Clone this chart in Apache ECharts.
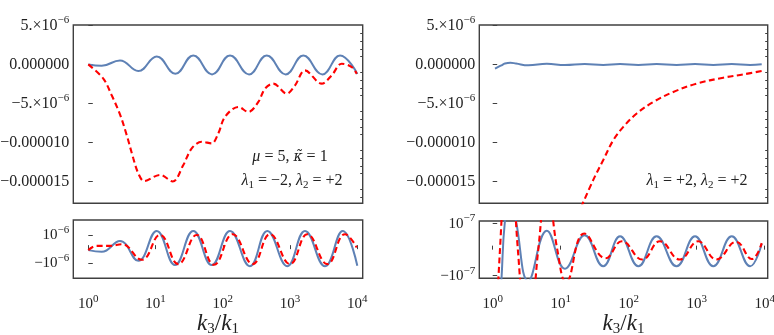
<!DOCTYPE html>
<html><head><meta charset="utf-8">
<script src="https://cdn.jsdelivr.net/npm/echarts@6/dist/echarts.min.js"></script>
<style>html,body{margin:0;padding:0;background:#fff}#c{width:774px;height:335px}</style>
</head><body><div id="c"></div>
<script>
// ---------- DATA (x = log10(k3/k1), y = value) ----------
// top-left panel
const tlBlueX = [0, 0.199, 0.471, 0.743, 1.017, 1.294, 1.561, 1.840, 2.107, 2.390, 2.653, 2.935, 3.197, 3.480, 3.743, 4.0];
const tlBlueY = [0, -0.17e-6, 0.51e-6, -0.85e-6, 1.02e-6, -1.19e-6, 1.15e-6, -1.28e-6, 1.15e-6, -1.28e-6, 1.15e-6, -1.28e-6, 1.15e-6, -1.28e-6, 1.15e-6, -1.22e-6];
const tlRedX = [0, 0.223, 0.348, 0.471, 0.571, 0.669, 0.743, 0.830, 1.066, 1.255, 1.413, 1.538, 1.686, 1.835, 1.933, 2.033, 2.230, 2.379, 2.528, 2.628, 2.751, 2.950, 3.074, 3.222, 3.471, 3.619, 3.768, 3.917, 3.991];
const tlRedY = [0, -1.82e-6, -3.96e-6, -6.4e-6, -9.06e-6, -12.03e-6, -13.95e-6, -14.95e-6, -14.16e-6, -15.0e-6, -12.89e-6, -10.76e-6, -9.91e-6, -10.12e-6, -8.84e-6, -6.72e-6, -5.45e-6, -6.09e-6, -4.81e-6, -3.10e-6, -2.46e-6, -3.74e-6, -2.68e-6, -0.77e-6, -2.46e-6, -1.40e-6, 0.09e-6, -0.34e-6, -1.19e-6];
// right column blue (same curve shown in top-right and bottom-right)
const rBlueX = [0.034, 0.13, 0.18, 0.26, 0.343, 0.524, 0.796, 1.063, 1.353, 1.625, 1.873, 2.142, 2.410, 2.704, 2.975, 3.244, 3.515, 3.785, 3.956];
const rBlueY = [-5.5e-7, -1.1e-7, 1.1e-7, 2.2e-7, 1.1e-7, -1.2e-7, 0.73e-7, -0.73e-7, 0.55e-7, -0.64e-7, 0.51e-7, -0.64e-7, 0.51e-7, -0.64e-7, 0.51e-7, -0.64e-7, 0.51e-7, -0.64e-7, 0.23e-7];
// top-right red
const trRedX = [1.30, 1.479, 1.626, 1.774, 1.921, 2.118, 2.362, 2.656, 3.0, 3.391, 3.685, 3.956];
const trRedY = [-18.3e-6, -14.8e-6, -12.25e-6, -9.70e-6, -8.0e-6, -6.29e-6, -4.81e-6, -3.53e-6, -2.46e-6, -1.70e-6, -1.28e-6, -0.85e-6];
// bottom-left
const blBlueX = [0, 0.199, 0.471, 0.743, 1.017, 1.289, 1.561, 1.835, 2.107, 2.404, 2.662, 2.959, 3.222, 3.520, 3.783, 4.0];
const blBlueY = [-0.07e-6, -0.19e-6, 0.58e-6, -0.82e-6, 1.28e-6, -1.12e-6, 1.28e-6, -1.12e-6, 1.28e-6, -1.2e-6, 1.28e-6, -1.2e-6, 1.28e-6, -1.2e-6, 1.28e-6, -1.17e-6];
const blRedX = [0, 0.125, 0.323, 0.497, 0.794, 1.066, 1.338, 1.612, 1.869, 2.147, 2.445, 2.702, 2.999, 3.257, 3.554, 3.817, 3.991];
const blRedY = [-0.07e-6, 0.23e-6, 0.23e-6, 0.35e-6, -0.75e-6, 1.0e-6, -1.05e-6, 1.0e-6, -1.1e-6, 1.05e-6, -1.05e-6, 1.05e-6, -1.05e-6, 1.05e-6, -1.05e-6, 1.05e-6, 0.12e-6];
// bottom-right red
const brRedX = [0.0, 0.107, 0.24, 0.37, 0.52, 0.67, 0.80, 0.95, 1.08, 1.347, 1.66, 1.90, 2.20, 2.46, 2.75, 3.02, 3.29, 3.58, 3.81, 3.956];
const brRedY = [-6e-7, 0, 5e-7, 0, -4e-7, 0, 2.5e-7, 0, -1.25e-7, 0.62e-7, -0.33e-7, 0.32e-7, -0.38e-7, 0.32e-7, -0.38e-7, 0.32e-7, -0.38e-7, 0.30e-7, -0.36e-7, 0.25e-7];

// ---------- TICKS ----------
const xTicks = [0, 1, 2, 3, 4];
const xTickExp = ['0', '1', '2', '3', '4'];
const topYTicks = [-15e-6, -10e-6, -5e-6, 0, 5e-6];
const topYLabels = [['\u22120.000015', ''], ['\u22120.000010', ''], ['\u22125.\u00d710', '\u22126'], ['0.000000', ''], ['5.\u00d710', '\u22126']];
const topYMinor = [-17e-6, -16e-6, -14e-6, -13e-6, -12e-6, -11e-6, -9e-6, -8e-6, -7e-6, -6e-6, -4e-6, -3e-6, -2e-6, -1e-6, 1e-6, 2e-6, 3e-6, 4e-6];
const blYTicks = [-1e-6, 1e-6];
const blYLabels = [['\u221210', '\u22126'], ['10', '\u22126']];
const brYTicks = [-1e-7, 1e-7];
const brYLabels = [['\u221210', '\u22127'], ['10', '\u22127']];

// ---------- STYLE ----------
const FONT = 'Liberation Serif';
const TXT = '#222222';
const FRAME = '#404040';
const BLUE = '#5e81b5';
const RED = '#ff0000';

function supRich(size) {
  return {
    b: {fontFamily: FONT, fontSize: size, color: TXT, lineHeight: size + 6},
    s: {fontFamily: FONT, fontSize: Math.round(size * 0.7), color: TXT, verticalAlign: 'top', lineHeight: Math.round(size * 0.7)}
  };
}
function fmtFrom(ticks, labels) {
  return function (v) {
    for (let i = 0; i < ticks.length; i++) {
      if (Math.abs(v - ticks[i]) < Math.abs(ticks[i]) * 1e-6 + 1e-15) {
        const l = labels[i];
        return '{b|' + l[0] + '}' + (l[1] ? '{s|' + l[1] + '}' : '');
      }
    }
    return '';
  };
}
function pts(xs, ys) { return xs.map((x, i) => [x, ys[i]]); }

const grids = [
  {left: 73.3, top: 25, width: 289.4, height: 178.3},
  {left: 479.3, top: 25, width: 288.4, height: 178.3},
  {left: 73.3, top: 220, width: 289.4, height: 58.3},
  {left: 479.3, top: 221, width: 288.4, height: 57.3}
].map(g => Object.assign({show: true, borderColor: FRAME, borderWidth: 1.4, backgroundColor: 'transparent', containLabel: false, outerBoundsMode: 'none'}, g));

const xRange = [[-0.223, 4.08], [-0.197, 4.044], [-0.223, 4.08], [-0.197, 4.044]];
const nameRich = {
  i: {fontFamily: FONT, fontStyle: 'italic', fontSize: 23, color: TXT, lineHeight: 26},
  n: {fontFamily: FONT, fontSize: 23, color: TXT, lineHeight: 26},
  sub: {fontFamily: FONT, fontSize: 15, color: TXT, verticalAlign: 'bottom', lineHeight: 14}
};
const xAxes = [0, 1, 2, 3].map(i => {
  const bottom = i >= 2;
  return {
    type: 'value', gridIndex: i, min: xRange[i][0], max: xRange[i][1],
    axisLine: {show: false}, splitLine: {show: false},
    axisTick: bottom ? {show: true, inside: true, length: 4, lineStyle: {color: FRAME, width: 1}, customValues: xTicks} : {show: false},
    axisLabel: bottom ? {show: true, customValues: xTicks, margin: 15, fontFamily: FONT,
      formatter: v => '{b|10}{s|' + xTickExp[xTicks.indexOf(Math.round(v))] + '}', rich: supRich(15)} : {show: false},
    name: bottom ? '{i|k}{sub|3}{n|/}{i|k}{sub|1}' : '',
    nameLocation: 'middle', nameGap: 30,
    nameTextStyle: {fontFamily: FONT, rich: nameRich}
  };
});

const yConf = [
  {min: -17.8e-6, max: 5.05e-6, ticks: topYTicks, labels: topYLabels, size: 16},
  {min: -17.8e-6, max: 5.05e-6, ticks: topYTicks, labels: topYLabels, size: 16},
  {min: -2.05e-6, max: 2.05e-6, ticks: blYTicks, labels: blYLabels, size: 15},
  {min: -1.1e-7, max: 1.1e-7, ticks: brYTicks, labels: brYLabels, size: 15}
];
const yAxes = yConf.map((c, i) => ({
  type: 'value', gridIndex: i, min: c.min, max: c.max,
  axisLine: {show: false}, splitLine: {show: false},
  axisTick: {show: true, inside: true, length: 4.5, lineStyle: {color: FRAME, width: 1}, customValues: c.ticks},
  axisLabel: {show: true, customValues: c.ticks, margin: 4, fontFamily: FONT, formatter: fmtFrom(c.ticks, c.labels), rich: supRich(c.size)}
}));
[0, 1].forEach(i => yAxes.push({
  type: 'value', gridIndex: i, min: yConf[i].min, max: yConf[i].max,
  axisLine: {show: false}, splitLine: {show: false}, axisLabel: {show: false},
  axisTick: {show: true, inside: true, length: 2.5, lineStyle: {color: FRAME, width: 1}, customValues: topYMinor}
}));

function line(xi, data, color, dashed, smooth) {
  return {
    type: 'line', xAxisIndex: xi, yAxisIndex: xi, data: data, smooth: smooth,
    symbol: 'none', showSymbol: false, clip: true, silent: true,
    lineStyle: {color: color, width: dashed ? 2.1 : 2, type: dashed ? [6, 3.5] : 'solid', cap: 'butt'},
    z: dashed ? 4 : 3
  };
}

const innerRich = {
  i: {fontFamily: FONT, fontStyle: 'italic', fontSize: 16, color: TXT, lineHeight: 20},
  kt: {fontFamily: 'DejaVu Serif', fontStyle: 'italic', fontSize: 14, color: TXT, lineHeight: 20},
  n: {fontFamily: FONT, fontSize: 16, color: TXT, lineHeight: 20},
  sub: {fontFamily: FONT, fontSize: 11, color: TXT, verticalAlign: 'bottom', lineHeight: 11}
};
function label(x, y, text) {
  return {type: 'text', x: x, y: y, z: 10, style: {text: text, rich: innerRich, fontFamily: FONT, fontSize: 16, fill: TXT, align: 'center', verticalAlign: 'middle'}};
}

const chart = echarts.init(document.getElementById('c'), null, {renderer: 'canvas'});
chart.setOption({
  animation: false,
  backgroundColor: '#ffffff',
  textStyle: {fontFamily: FONT},
  grid: grids,
  xAxis: xAxes,
  yAxis: yAxes,
  series: [
    line(0, pts(tlBlueX, tlBlueY), BLUE, false, 0.45),
    line(0, pts(tlRedX, tlRedY), RED, true, 0.35),
    line(1, pts(rBlueX, rBlueY), BLUE, false, 0.45),
    line(1, pts(trRedX, trRedY), RED, true, 0.35),
    line(2, pts(blBlueX, blBlueY), BLUE, false, 0.45),
    line(2, pts(blRedX, blRedY), RED, true, 0.45),
    line(3, pts(rBlueX, rBlueY), BLUE, false, 0.45),
    line(3, pts(brRedX, brRedY), RED, true, 0.45)
  ],
  graphic: [
    label(290, 157, '{i|\u03bc}{n| = 5, }{kt|\u03ba\u0303}{n| = 1}'),
    label(292, 181, '{i|\u03bb}{sub|1}{n| = \u22122, }{i|\u03bb}{sub|2}{n| = +2}'),
    label(697, 181, '{i|\u03bb}{sub|1}{n| = +2, }{i|\u03bb}{sub|2}{n| = +2}')
  ]
});
</script></body></html>
